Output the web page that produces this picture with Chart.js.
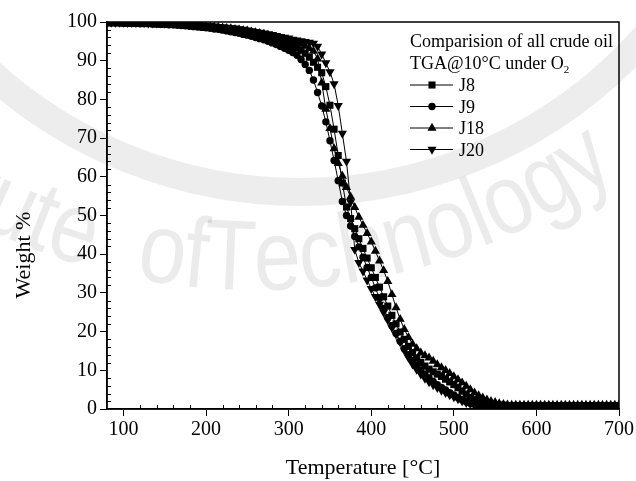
<!DOCTYPE html>
<html>
<head>
<meta charset="utf-8">
<script src="https://cdn.jsdelivr.net/npm/chart.js@4.4.1/dist/chart.umd.min.js"></script>
<style>
  html, body { margin: 0; padding: 0; background: #fff; }
  #tga { display: block; }
</style>
</head>
<body>
<canvas id="tga" width="636" height="481"></canvas>
<script>
// temperature grid (°C) shared by all runs
const temperature = [
  80, 85, 90, 95, 100, 105, 110, 115, 120, 125,
  130, 135, 140, 145, 150, 155, 160, 165, 170, 175,
  180, 185, 190, 195, 200, 205, 210, 215, 220, 225,
  230, 235, 240, 245, 250, 255, 260, 265, 270, 275,
  280, 285, 290, 295, 300, 305, 310, 315, 320, 325,
  330, 335, 340, 345, 350, 355, 360, 365, 370, 375,
  380, 385, 390, 395, 400, 405, 410, 415, 420, 425,
  430, 435, 440, 445, 450, 455, 460, 465, 470, 475,
  480, 485, 490, 495, 500, 505, 510, 515, 520, 525,
  530, 535, 540, 545, 550, 555, 560, 565, 570, 575,
  580, 585, 590, 595, 600, 605, 610, 615, 620, 625,
  630, 635, 640, 645, 650, 655, 660, 665, 670, 675,
  680, 685, 690, 695, 700
];

// weight % for each crude oil sample
const j8 = [
  99.8, 99.8, 99.8, 99.8, 99.7, 99.7, 99.7, 99.7, 99.6, 99.6,
  99.6, 99.6, 99.5, 99.5, 99.5, 99.4, 99.4, 99.3, 99.3, 99.2,
  99.2, 99.1, 99.0, 98.9, 98.8, 98.7, 98.6, 98.5, 98.4, 98.3,
  98.1, 98.0, 97.8, 97.6, 97.4, 97.2, 97.0, 96.7, 96.4, 96.1,
  95.8, 95.5, 95.1, 94.7, 94.3, 93.8, 93.3, 92.7, 91.9, 90.9,
  89.6, 88.3, 86.9, 83.3, 78.5, 72.3, 65.5, 58.4, 52.2, 49.2,
  46.6, 44.0, 41.5, 39.0, 36.5, 34.0, 31.5, 29.0, 26.6, 24.2,
  22.0, 19.9, 18.0, 16.2, 14.6, 13.2, 12.0, 11.1, 10.3, 9.6,
  9.0, 8.4, 7.7, 7.0, 6.3, 5.5, 4.6, 3.8, 3.0, 2.4,
  2.0, 1.6, 1.4, 1.2, 1.1, 1.0, 1.0, 0.9, 0.9, 0.9,
  0.9, 0.9, 0.9, 0.9, 0.9, 0.9, 0.9, 0.9, 0.9, 0.9,
  0.9, 0.9, 0.9, 0.9, 0.9, 0.9, 0.9, 0.9, 0.9, 0.9,
  0.9, 0.9, 0.9, 0.9, 0.9
];
const j9 = [
  99.8, 99.8, 99.8, 99.8, 99.7, 99.7, 99.7, 99.7, 99.6, 99.6,
  99.6, 99.5, 99.5, 99.4, 99.4, 99.3, 99.3, 99.2, 99.1, 99.0,
  98.9, 98.8, 98.7, 98.6, 98.5, 98.4, 98.2, 98.1, 97.9, 97.7,
  97.5, 97.3, 97.1, 96.8, 96.6, 96.3, 96.0, 95.7, 95.4, 95.0,
  94.6, 94.2, 93.7, 93.2, 92.7, 92.1, 91.4, 90.3, 89.0, 87.5,
  85.0, 81.8, 78.3, 74.2, 69.3, 64.2, 59.0, 53.6, 50.0, 47.3,
  44.6, 41.9, 39.2, 36.6, 34.0, 31.3, 28.6, 26.0, 23.6, 21.5,
  19.5, 17.5, 15.6, 14.0, 12.6, 11.3, 10.1, 9.0, 8.0, 7.1,
  6.3, 5.6, 4.9, 4.2, 3.6, 3.0, 2.4, 1.9, 1.5, 1.2,
  1.0, 0.9, 0.8, 0.8, 0.8, 0.8, 0.8, 0.8, 0.8, 0.8,
  0.8, 0.8, 0.8, 0.8, 0.8, 0.7, 0.7, 0.7, 0.7, 0.7,
  0.7, 0.7, 0.7, 0.7, 0.7, 0.7, 0.7, 0.7, 0.7, 0.7,
  0.7, 0.7, 0.7, 0.7, 0.7
];
const j18 = [
  99.8, 99.8, 99.8, 99.8, 99.8, 99.7, 99.7, 99.7, 99.7, 99.6,
  99.6, 99.6, 99.6, 99.5, 99.5, 99.5, 99.4, 99.4, 99.3, 99.3,
  99.2, 99.2, 99.1, 99.0, 98.9, 98.8, 98.7, 98.6, 98.5, 98.4,
  98.3, 98.1, 98.0, 97.8, 97.7, 97.5, 97.3, 97.1, 96.9, 96.6,
  96.4, 96.1, 95.8, 95.5, 95.2, 94.9, 94.6, 94.3, 93.8, 93.2,
  92.5, 90.5, 84.3, 77.5, 72.5, 67.3, 63.5, 60.2, 57.3, 54.8,
  52.1, 49.6, 47.5, 45.4, 43.2, 40.8, 38.3, 35.8, 33.0, 29.6,
  26.2, 23.2, 20.6, 18.5, 16.8, 15.6, 14.5, 13.8, 13.2, 12.4,
  11.5, 10.7, 10.0, 9.2, 8.4, 7.6, 6.8, 5.9, 5.0, 4.2,
  3.5, 2.9, 2.4, 2.0, 1.7, 1.4, 1.2, 1.1, 1.0, 1.0,
  1.0, 1.0, 1.0, 1.0, 1.0, 1.0, 1.0, 1.0, 1.0, 1.0,
  1.0, 1.0, 1.0, 1.0, 1.0, 1.0, 1.0, 1.0, 1.0, 1.0,
  1.0, 1.0, 1.0, 1.0, 1.0
];
const j20 = [
  99.9, 99.9, 99.9, 99.9, 99.9, 99.8, 99.8, 99.8, 99.8, 99.8,
  99.7, 99.7, 99.7, 99.7, 99.6, 99.6, 99.6, 99.5, 99.5, 99.4,
  99.4, 99.3, 99.3, 99.2, 99.1, 99.0, 98.9, 98.8, 98.7, 98.6,
  98.5, 98.4, 98.2, 98.1, 97.9, 97.7, 97.5, 97.3, 97.1, 96.9,
  96.7, 96.5, 96.2, 96.0, 95.8, 95.5, 95.3, 95.1, 94.9, 94.7,
  94.5, 93.7, 91.7, 89.4, 87.1, 84.0, 78.4, 71.2, 64.0, 53.5,
  41.2, 37.8, 35.6, 33.3, 31.1, 29.0, 27.0, 25.0, 23.0, 21.1,
  19.3, 17.3, 15.2, 13.3, 11.6, 10.2, 9.0, 7.9, 7.0, 6.2,
  5.5, 4.8, 4.2, 3.6, 3.1, 2.6, 2.1, 1.6, 1.3, 1.0,
  0.9, 0.8, 0.8, 0.8, 0.8, 0.8, 0.8, 0.8, 0.8, 0.8,
  0.8, 0.8, 0.8, 0.8, 0.8, 0.8, 0.8, 0.8, 0.8, 0.8,
  0.8, 0.8, 0.8, 0.8, 0.8, 0.8, 0.8, 0.8, 0.8, 0.8,
  0.8, 0.8, 0.8, 0.8, 0.8
];

const sampleNames = ['J8', 'J9', 'J18', 'J20'];
const xTickValues = [100, 200, 300, 400, 500, 600, 700];
const yTickValues = [0, 10, 20, 30, 40, 50, 60, 70, 80, 90, 100];
const legendTitle = ['Comparision of all crude oil', 'TGA@10°C under O', '2'];
const yTitle = 'Weight %';

const SERIF = '"Liberation Serif", "Times New Roman", serif';

const markers = [
  { pointStyle: 'rect', radius: 5, rotation: 0 },
  { pointStyle: 'circle', radius: 3.7, rotation: 0 },
  { pointStyle: 'triangle', radius: 5.3, rotation: 0 },
  { pointStyle: 'triangle', radius: 5.3, rotation: 180 }
];

function series(values) {
  return values.map((w, i) => ({ x: temperature[i], y: w }));
}

const datasets = [j8, j9, j18, j20].map((vals, k) => ({
  label: sampleNames[k],
  data: series(vals),
  borderColor: '#000',
  borderWidth: 1,
  backgroundColor: '#000',
  pointBackgroundColor: '#000',
  pointBorderColor: '#000',
  pointBorderWidth: 0,
  pointStyle: markers[k].pointStyle,
  pointRadius: markers[k].radius,
  pointRotation: markers[k].rotation,
  tension: 0
}));

// faint seal behind the plot: one ring and the lettering on an arc
const watermark = {
  id: 'watermark',
  beforeDraw(chart) {
    const ctx = chart.ctx;
    ctx.save();
    ctx.fillStyle = '#fff';
    ctx.fillRect(0, 0, chart.width, chart.height);

    ctx.strokeStyle = 'rgba(0,0,0,0.07)';
    ctx.lineWidth = 28;
    ctx.beginPath();
    ctx.arc(300, -270, 462, 0, Math.PI);
    ctx.stroke();

    ctx.fillStyle = 'rgba(0,0,0,0.08)';
    const size = 100, squeeze = 0.85;
    ctx.font = size + 'px "Liberation Sans", Arial, sans-serif';
    ctx.textAlign = 'center';
    ctx.textBaseline = 'alphabetic';
    const cx = 255, cy = -328, r = 618;
    const angleAt = (x) => Math.acos((x - cx) / r);
    const words = [
      { text: 'Institute', endX: 88 },
      { text: 'of', startX: 135 },
      { text: 'Technology', startX: 203 }
    ];
    words.forEach((wd) => {
      const widths = [...wd.text].map(ch => ctx.measureText(ch).width * squeeze);
      const total = widths.reduce((a, b) => a + b, 0);
      let theta = wd.startX !== undefined ? angleAt(wd.startX) : angleAt(wd.endX) + total / r;
      [...wd.text].forEach((ch, i) => {
        const mid = theta - widths[i] / 2 / r;
        ctx.save();
        ctx.translate(cx + r * Math.cos(mid), cy + r * Math.sin(mid));
        ctx.rotate(mid - Math.PI / 2);
        ctx.scale(squeeze, 1);
        ctx.fillText(ch, 0, 0);
        ctx.restore();
        theta -= widths[i] / r;
      });
    });
    ctx.restore();
  }
};

// box frame, inward minor ticks, y title and the legend block
const frameAndLegend = {
  id: 'frameAndLegend',
  afterDraw(chart) {
    const ctx = chart.ctx;
    const { left, right, top, bottom } = chart.chartArea;
    const xs = chart.scales.x, ys = chart.scales.y;
    ctx.save();
    ctx.strokeStyle = '#000';
    ctx.lineWidth = 1.5;
    ctx.strokeRect(left, top, right - left, bottom - top);

    ctx.lineWidth = 1;
    ctx.beginPath();
    for (let t = 120; t < 700; t += 20) {
      if (t % 100 === 0) continue;
      const px = Math.round(xs.getPixelForValue(t)) + 0.5;
      ctx.moveTo(px, bottom);
      ctx.lineTo(px, bottom - 4);
    }
    for (let w = 2; w < 100; w += 2) {
      if (w % 10 === 0) continue;
      const py = Math.round(ys.getPixelForValue(w)) + 0.5;
      ctx.moveTo(left, py);
      ctx.lineTo(left + 4, py);
    }
    ctx.stroke();

    ctx.fillStyle = '#000';
    ctx.font = '22px ' + SERIF;
    ctx.textAlign = 'center';
    ctx.textBaseline = 'middle';
    ctx.save();
    ctx.translate(24, 255);
    ctx.rotate(-Math.PI / 2);
    ctx.fillText(yTitle, 0, 0);
    ctx.restore();

    // legend
    const lx = 410;
    ctx.textAlign = 'left';
    ctx.textBaseline = 'alphabetic';
    ctx.font = '18px ' + SERIF;
    ctx.fillText(legendTitle[0], lx, 47);
    ctx.fillText(legendTitle[1], lx, 69);
    const sw = ctx.measureText(legendTitle[1]).width;
    ctx.font = '11px ' + SERIF;
    ctx.fillText(legendTitle[2], lx + sw, 73);

    ctx.font = '18px ' + SERIF;
    chart.data.datasets.forEach((ds, k) => {
      const y = 85 + k * 21.5;
      ctx.beginPath();
      ctx.moveTo(lx, y);
      ctx.lineTo(lx + 43, y);
      ctx.lineWidth = 1;
      ctx.stroke();
      Chart.helpers.drawPoint(ctx, {
        pointStyle: markers[k].pointStyle,
        radius: markers[k].radius,
        rotation: markers[k].rotation,
        borderWidth: 0
      }, lx + 22, y);
      ctx.fillText(ds.label, lx + 49, y + 6);
    });
    ctx.restore();
  }
};

new Chart(document.getElementById('tga'), {
  type: 'line',
  data: { datasets },
  plugins: [watermark, frameAndLegend],
  options: {
    responsive: false,
    devicePixelRatio: 1,
    animation: false,
    layout: { padding: { top: 22, right: 16, left: 0, bottom: 0 } },
    plugins: { legend: { display: false }, tooltip: { enabled: false } },
    scales: {
      x: {
        type: 'linear',
        min: 80,
        max: 700,
        afterBuildTicks: (s) => { s.ticks = xTickValues.map(v => ({ value: v })); },
        afterFit: (s) => { s.height = 72; },
        grid: { drawOnChartArea: false, drawTicks: true, tickLength: 7, color: '#000', lineWidth: 1 },
        border: { color: '#000', width: 1.5 },
        ticks: { color: '#000', font: { family: SERIF, size: 20 }, padding: 2, maxRotation: 0 },
        title: { display: true, text: 'Temperature [°C]', color: '#000', font: { family: SERIF, size: 22 }, padding: 0 }
      },
      y: {
        min: 0,
        max: 100,
        afterBuildTicks: (s) => { s.ticks = yTickValues.map(v => ({ value: v })); },
        afterFit: (s) => { s.width = 107; },
        grid: { drawOnChartArea: false, drawTicks: true, tickLength: 7, color: '#000', lineWidth: 1 },
        border: { color: '#000', width: 1.5 },
        ticks: { color: '#000', font: { family: SERIF, size: 20 }, padding: 3 }
      }
    }
  }
});
</script>
</body>
</html>
